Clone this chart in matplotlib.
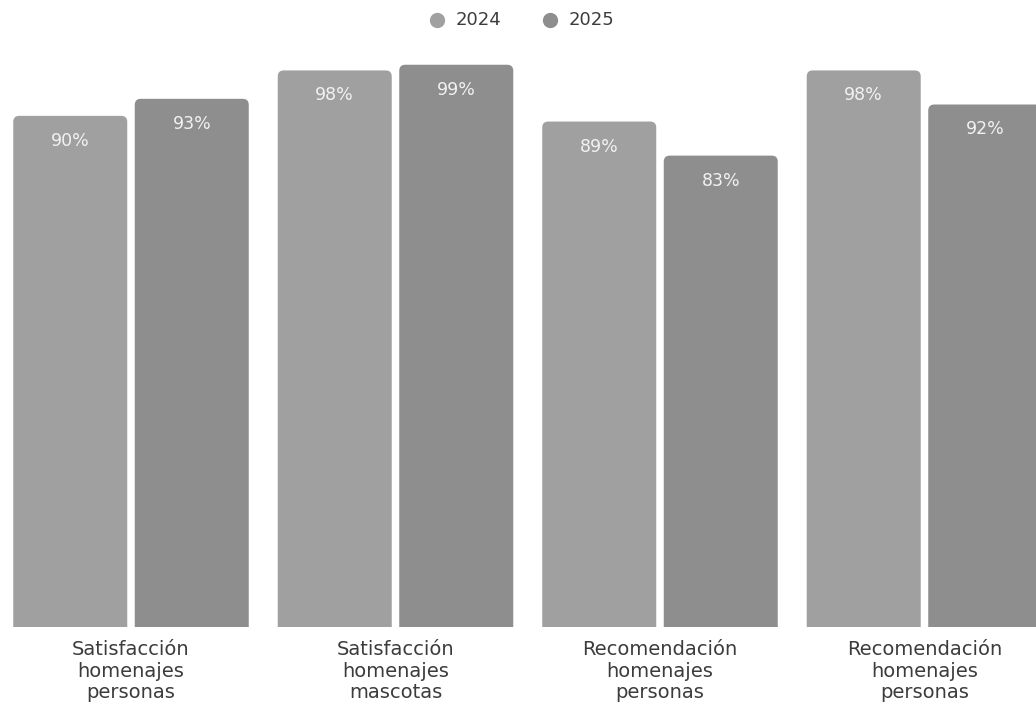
import matplotlib
matplotlib.use("Agg")
import matplotlib.pyplot as plt
from matplotlib.patches import FancyBboxPatch
from matplotlib.lines import Line2D
import numpy as np

categories = [
    "Satisfacción\nhomenajes\npersonas",
    "Satisfacción\nhomenajes\nmascotas",
    "Recomendación\nhomenajes\npersonas",
    "Recomendación\nhomenajes\npersonas",
]
series_names = ["2024", "2025"]
values_2024 = [90, 98, 89, 98]
values_2025 = [93, 99, 83, 92]

colors = ["#a0a0a0", "#8e8e8e"]
text_dark = "#3c3c3c"

plt.rcParams["font.family"] = ["DejaVu Sans"]

W, H = 10.36, 7.10
fig = plt.figure(figsize=(W, H), dpi=100)
fig.patch.set_facecolor("white")

# axes: full width, baseline at y=627px from the top
ax = fig.add_axes([0, (710 - 627) / 710, 1, 627 / 710])
ax.set_xlim(-0.4953, 3.4216)
ax.set_ylim(0, 110.4)
ax.axis("off")

x = np.arange(len(categories))
offset = 0.2297
width = 0.431

px_x = 264.5          # pixels per x unit
px_y = 627 / 110.4    # pixels per y unit
r_px = 6.0
rounding = r_px / px_x
aspect = px_x / px_y

for vals, dx, col in [(values_2024, -offset, colors[0]), (values_2025, offset, colors[1])]:
    bars = ax.bar(x + dx, vals, width=width, color=col)
    for rect, v in zip(bars, vals):
        rect.set_visible(False)
        x0, w, h = rect.get_x(), rect.get_width(), rect.get_height()
        patch = FancyBboxPatch((x0, -5), w, h + 5,
                               boxstyle=f"round,pad=0,rounding_size={rounding}",
                               mutation_aspect=aspect,
                               facecolor=col, edgecolor="none")
        ax.add_patch(patch)
        ax.text(x0 + w / 2, h - 25 / px_y, f"{v}%", ha="center", va="center",
                color="#f2f2f2", fontsize=12.5)

# category labels below bars
for xi, lab in zip(x, categories):
    fig.text((131 + 264.5 * xi) / 1036, 1 - 640 / 710, lab, ha="center", va="top",
             fontsize=14, color=text_dark, linespacing=1.17)

# legend: markers and labels
legend_items = [(437, colors[0]), (550, colors[1])]
for (cx, col), name in zip(legend_items, series_names):
    fig.add_artist(Line2D([cx / 1036], [1 - 20 / 710], marker="o", markersize=11,
                          markerfacecolor=col, markeredgecolor="none",
                          linestyle="none", transform=fig.transFigure))
    fig.text((cx + 19) / 1036, 1 - 20 / 710, name, ha="left", va="center",
             fontsize=13, color=text_dark)

fig.savefig("out.png", dpi=100, facecolor="white")
